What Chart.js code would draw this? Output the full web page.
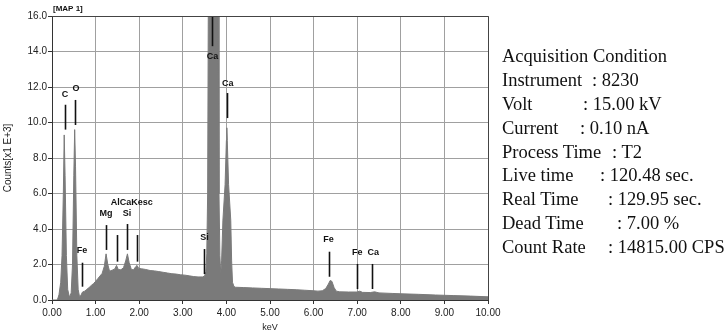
<!DOCTYPE html>
<html>
<head>
<meta charset="utf-8">
<script src="https://cdn.jsdelivr.net/npm/chart.js@4/dist/chart.umd.min.js"></script>
<style>
  html, body { margin: 0; padding: 0; background: #fff; }
  #wrap { position: relative; width: 726px; height: 333px; overflow: hidden; }
  #plot { position: absolute; left: 0; top: 0; width: 505px; height: 333px; }
  #info { position: absolute; left: 502px; top: 45px; font: 18.5px "Liberation Serif", "Times New Roman", serif; color: #111; }
  #info div { position: relative; height: 23.9px; line-height: 23.9px; white-space: nowrap; }
  #info span { position: absolute; top: 0; }
</style>
</head>
<body>
<div id="wrap">
  <div id="plot"><canvas id="eds"></canvas></div>
  <div id="info"></div>
</div>
<script>
// spectrum: energy in keV, counts in thousands
const energy = [0.00, 0.10, 0.13, 0.16, 0.20, 0.23, 0.26, 0.28, 0.30, 0.33, 0.36, 0.40, 0.44, 0.47, 0.50, 0.52, 0.54, 0.57, 0.60, 0.63,
  0.66, 0.70, 0.75, 0.80, 0.85, 0.90, 0.95, 1.00, 1.05, 1.10, 1.15, 1.20, 1.24, 1.28, 1.32, 1.38, 1.44, 1.48, 1.52, 1.58,
  1.64, 1.69, 1.73, 1.77, 1.82, 1.87, 1.92, 1.95, 1.99, 2.05, 2.15, 2.25, 2.35, 2.45, 2.55, 2.65, 2.75, 2.85, 2.95, 3.05,
  3.15, 3.25, 3.35, 3.45, 3.50, 3.53, 3.55, 3.57, 3.59, 3.62, 3.69, 3.78, 3.81, 3.83, 3.85, 3.87, 3.89, 3.92, 3.97, 4.00,
  4.01, 4.02, 4.05, 4.10, 4.12, 4.14, 4.17, 4.20, 4.40, 4.60, 4.80, 5.00, 5.20, 5.40, 5.60, 5.80, 6.00, 6.10, 6.20, 6.28,
  6.34, 6.38, 6.42, 6.47, 6.52, 6.60, 6.80, 7.00, 7.06, 7.12, 7.30, 7.40, 7.50, 7.80, 8.00, 8.40, 8.80, 9.20, 9.60, 10.00];
const counts = [0.00, 0.00, 0.05, 0.30, 1.00, 2.50, 6.00, 9.30, 7.00, 2.50, 0.60, 0.15, 0.40, 2.00, 7.00, 9.60, 7.50, 2.50, 0.60, 0.20,
  0.25, 0.45, 0.50, 0.60, 0.70, 0.82, 0.92, 1.05, 1.20, 1.35, 1.50, 1.90, 2.60, 2.00, 1.62, 1.68, 1.75, 1.95, 1.72, 1.70,
  1.82, 2.20, 2.60, 2.10, 1.72, 1.70, 1.88, 1.95, 1.78, 1.76, 1.72, 1.66, 1.64, 1.60, 1.56, 1.52, 1.48, 1.46, 1.42, 1.40,
  1.36, 1.32, 1.30, 1.30, 1.35, 1.60, 2.60, 6.00, 20.0, 50.0, 100.0, 50.0, 18.0, 6.00, 2.50, 1.50, 2.20, 4.50, 6.50, 9.00,
  9.70, 9.00, 6.50, 4.50, 2.20, 1.00, 0.78, 0.72, 0.70, 0.68, 0.66, 0.64, 0.62, 0.60, 0.58, 0.55, 0.52, 0.50, 0.52, 0.65,
  0.90, 1.10, 1.05, 0.70, 0.50, 0.46, 0.45, 0.45, 0.50, 0.43, 0.42, 0.46, 0.40, 0.37, 0.35, 0.32, 0.28, 0.25, 0.22, 0.18];

// peak markers: line from markTop to markBottom, label at (labelKeV, labelY)
const markKeV    = [0.29, 0.53, 0.69, 1.24, 1.48, 1.73, 1.94, 3.48, 3.68, 4.01, 6.35, 7.00, 7.35];
const markTop    = [11.0, 11.27, 2.10, 4.22, 3.66, 4.28, 3.66, 2.87, 16.0, 11.66, 2.72, 2.03, 2.03];
const markBottom = [9.60, 9.86, 0.75, 2.82, 2.16, 2.82, 2.16, 1.46, 14.3, 10.25, 1.31, 0.62, 0.62];
const labelText  = ['C', 'O', 'Fe', 'Mg', 'AlCaKesc', 'Si', 'Si', 'Ca', 'Ca', 'Fe', 'Fe', 'Ca'];
const labelKeV   = [0.30, 0.55, 0.69, 1.24, 1.83, 1.72, 3.50, 3.68, 4.03, 6.34, 7.00, 7.37];
const labelY     = [11.6, 11.9, 2.76, 4.9, 5.5, 4.9, 3.5, 13.7, 12.2, 3.38, 2.65, 2.65];

const infoLabels = ['Acquisition Condition', 'Instrument', 'Volt', 'Current', 'Process Time', 'Live time', 'Real Time', 'Dead Time', 'Count Rate'];
const infoValues = ['', ': 8230', ': 15.00 kV', ': 0.10 nA', ': T2', ': 120.48 sec.', ': 129.95 sec.', ': 7.00 %', ': 14815.00 CPS'];
const infoColon  = [0, 90, 81, 78, 110, 98, 106, 115, 106];

(function () {
  'use strict';

  const info = document.getElementById('info');
  infoLabels.forEach((lab, i) => {
    const row = document.createElement('div');
    const a = document.createElement('span');
    a.textContent = lab;
    a.style.left = '0px';
    row.appendChild(a);
    if (infoValues[i]) {
      const b = document.createElement('span');
      b.textContent = infoValues[i];
      b.style.left = infoColon[i] + 'px';
      row.appendChild(b);
    }
    info.appendChild(row);
  });

  const markers = {
    id: 'markers',
    afterDatasetsDraw(chart) {
      const { ctx, chartArea: a, scales: { x, y } } = chart;
      ctx.save();
      ctx.strokeStyle = '#111';
      ctx.lineWidth = 1.6;
      markKeV.forEach((k, i) => {
        const px = Math.round(x.getPixelForValue(k)) + 0.5;
        ctx.beginPath();
        ctx.moveTo(px, y.getPixelForValue(markTop[i]));
        ctx.lineTo(px, y.getPixelForValue(markBottom[i]));
        ctx.stroke();
      });
      ctx.fillStyle = '#111';
      ctx.font = 'bold 9px "Liberation Sans", Arial, sans-serif';
      ctx.textAlign = 'center';
      ctx.textBaseline = 'middle';
      labelText.forEach((t, i) => {
        ctx.fillText(t, x.getPixelForValue(labelKeV[i]), y.getPixelForValue(labelY[i]));
      });
      // frame
      ctx.strokeStyle = '#444';
      ctx.lineWidth = 1;
      ctx.beginPath();
      ctx.moveTo(a.left, a.top + 0.5);
      ctx.lineTo(a.right + 0.5, a.top + 0.5);
      ctx.lineTo(a.right + 0.5, a.bottom);
      ctx.stroke();
      ctx.textAlign = 'left';
      ctx.font = 'bold 8px "Liberation Sans", Arial, sans-serif';
      ctx.fillText('[MAP 1]', a.left + 1, a.top - 7);
      ctx.restore();
    },
  };

  const tickFont = { family: '"Liberation Sans", Arial, sans-serif', size: 10 };

  new Chart(document.getElementById('eds'), {
    type: 'line',
    data: {
      datasets: [{
        data: energy.map((e, i) => ({ x: e, y: counts[i] })),
        borderColor: '#7a7a7a',
        backgroundColor: '#7a7a7a',
        borderWidth: 1,
        fill: 'origin',
        pointRadius: 0,
        tension: 0,
      }],
    },
    options: {
      responsive: true,
      maintainAspectRatio: false,
      animation: false,
      layout: { padding: { top: 16, right: 17, left: 0, bottom: 0 } },
      plugins: { legend: { display: false }, tooltip: { enabled: false } },
      scales: {
        x: {
          type: 'linear',
          min: 0,
          max: 10,
          afterFit: (s) => { s.height = 33; },
          ticks: { stepSize: 1, color: '#222', font: tickFont, padding: 3, maxRotation: 0,
            callback: (v) => v.toFixed(2) },
          grid: { color: '#a0a0a0', tickColor: '#333', tickLength: 4 },
          border: { color: '#333' },
          title: { display: true, text: 'keV', color: '#222', font: { family: tickFont.family, size: 9 }, padding: 0 },
        },
        y: {
          min: 0,
          max: 16,
          afterFit: (s) => { s.width = 52; },
          ticks: { stepSize: 2, color: '#222', font: tickFont, padding: 1,
            callback: (v) => v.toFixed(1) },
          grid: { color: '#a0a0a0', tickColor: '#333', tickLength: 4 },
          border: { color: '#333' },
          title: { display: true, text: 'Counts[x1 E+3]', color: '#222', font: tickFont, padding: 2 },
        },
      },
    },
    plugins: [markers],
  });
})();
</script>
</body>
</html>
